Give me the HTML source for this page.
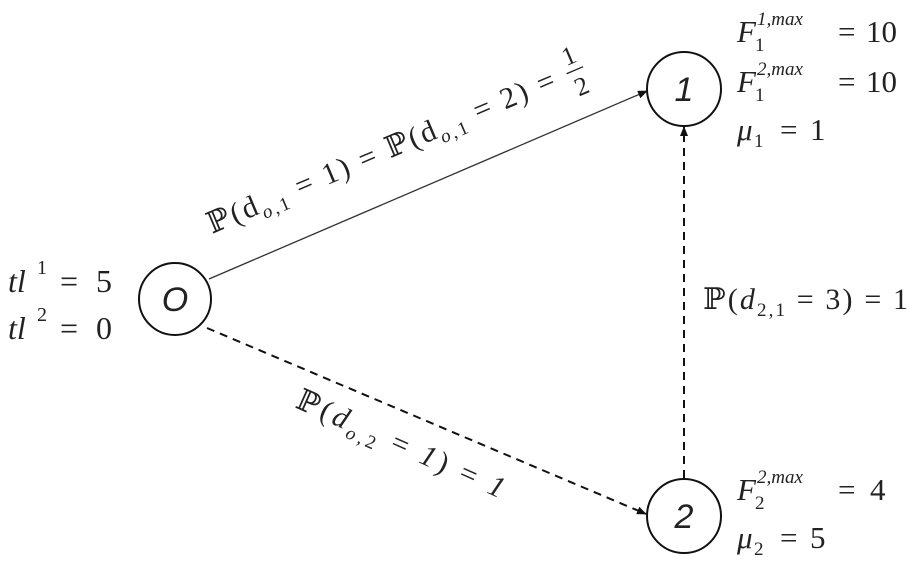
<!DOCTYPE html>
<html><head><meta charset="utf-8"><style>
html,body{margin:0;padding:0;background:#fff;}
svg{display:block;}
text{font-family:"Liberation Serif","DejaVu Serif",serif;fill:#222;}
.m{font-style:italic;}
</style></head><body>
<svg width="918" height="564" viewBox="0 0 918 564" xmlns="http://www.w3.org/2000/svg">
<defs>
<marker id="ah" markerWidth="10" markerHeight="10" refX="9" refY="5" orient="auto" markerUnits="userSpaceOnUse">
<path d="M0,1 L10,5 L0,9 Z" fill="#111"/>
</marker>
</defs>
<line x1="209" y1="279" x2="647" y2="91" stroke="#333" stroke-width="1.3" marker-end="url(#ah)"/>
<line x1="207" y1="328" x2="646" y2="514" stroke="#111" stroke-width="2" stroke-dasharray="8,6" marker-end="url(#ah)"/>
<line x1="684" y1="478" x2="684" y2="127" stroke="#111" stroke-width="2" stroke-dasharray="8,6" marker-end="url(#ah)"/>
<circle cx="175" cy="299" r="36" fill="#fff" stroke="#111" stroke-width="2"/>
<circle cx="684" cy="89" r="37" fill="#fff" stroke="#111" stroke-width="2"/>
<circle cx="684" cy="516" r="37" fill="#fff" stroke="#111" stroke-width="2"/>
<text x="175" y="311" font-size="34" text-anchor="middle" class="m" style="font-family:'Liberation Sans',sans-serif">O</text>
<text x="684" y="101" font-size="34" text-anchor="middle" class="m" style="font-family:'Liberation Sans',sans-serif">1</text>
<text x="684" y="528" font-size="34" text-anchor="middle" class="m" style="font-family:'Liberation Sans',sans-serif">2</text>
<!-- left labels -->
<text x="8" y="292" font-size="32" class="m">tl</text><text x="37" y="274" font-size="20">1</text><text x="60" y="292" font-size="32">=</text><text x="96" y="292" font-size="32">5</text>
<text x="8" y="339" font-size="32" class="m">tl</text><text x="37" y="321" font-size="20">2</text><text x="60" y="339" font-size="32">=</text><text x="96" y="339" font-size="32">0</text>
<!-- node1 labels -->
<text x="737" y="42" font-size="31" class="m">F</text><text x="757" y="25" font-size="19" class="m">1,max</text><text x="755" y="51" font-size="19">1</text><text x="838" y="42" font-size="31">=</text><text x="866" y="42" font-size="31">10</text>
<text x="737" y="92" font-size="31" class="m">F</text><text x="757" y="75" font-size="19" class="m">2,max</text><text x="755" y="101" font-size="19">1</text><text x="838" y="92" font-size="31">=</text><text x="866" y="92" font-size="31">10</text>
<text x="737" y="140" font-size="31" class="m">μ</text><text x="754" y="147" font-size="19">1</text><text x="780" y="140" font-size="31">=</text><text x="810" y="140" font-size="31">1</text>
<!-- node2 labels -->
<text x="737" y="500" font-size="31" class="m">F</text><text x="757" y="483" font-size="19" class="m">2,max</text><text x="755" y="509" font-size="19">2</text><text x="838" y="500" font-size="31">=</text><text x="870" y="500" font-size="31">4</text>
<text x="737" y="548" font-size="31" class="m">μ</text><text x="754" y="555" font-size="19">2</text><text x="780" y="548" font-size="31">=</text><text x="810" y="548" font-size="31">5</text>
<!-- vertical edge label -->
<text x="703" y="309" font-size="30" textLength="205" lengthAdjust="spacing">ℙ(<tspan class="m">d</tspan><tspan font-size="19" dy="7">2,1</tspan><tspan dy="-7"> = 3) = 1</tspan></text>
<!-- O->1 label -->
<g transform="translate(212,234) rotate(-23)">
<text x="0" y="0" font-size="30" textLength="375" lengthAdjust="spacing">ℙ(d<tspan font-size="19" dy="7" class="m">o</tspan><tspan font-size="19">,1</tspan><tspan dy="-7"> = 1) = ℙ(d</tspan><tspan font-size="19" dy="7" class="m">o</tspan><tspan font-size="19">,1</tspan><tspan dy="-7"> = 2) =</tspan></text>
<text x="398" y="-16" font-size="26" text-anchor="middle">1</text>
<line x1="389" y1="-9" x2="407" y2="-9" stroke="#222" stroke-width="1.3"/>
<text x="398" y="17" font-size="26" text-anchor="middle">2</text>
</g>
<!-- O->2 label -->
<g transform="translate(294,407) rotate(24)">
<text x="0" y="0" font-size="30" textLength="225" lengthAdjust="spacing">ℙ(<tspan class="m">d</tspan><tspan font-size="19" dy="7" class="m">o</tspan><tspan font-size="19">,2</tspan><tspan dy="-7"> = </tspan><tspan class="m">1</tspan>) = <tspan class="m">1</tspan></text>
</g>
</svg>
</body></html>
